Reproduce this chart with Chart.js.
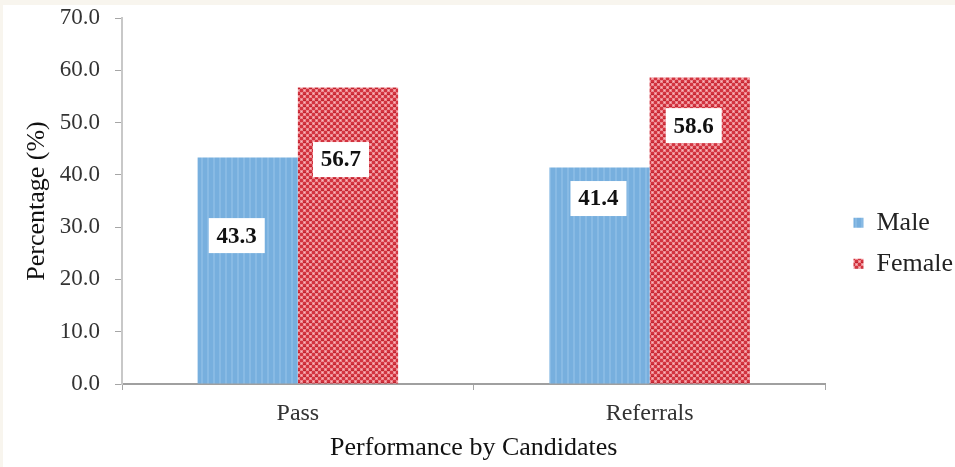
<!DOCTYPE html>
<html>
<head>
<meta charset="utf-8">
<script src="https://cdn.jsdelivr.net/npm/chart.js@4.4.0/dist/chart.umd.min.js"></script>
<style>
  html, body { margin: 0; padding: 0; background: #f8f5ee; }
  #frame { position: relative; width: 955px; height: 467px; background: #f8f5ee; overflow: hidden; }
  #wrap { position: absolute; left: 3px; top: 5px; width: 952px; height: 462px; background: #ffffff; }
</style>
</head>
<body>
<div id="frame"><div id="wrap"><canvas id="chart" width="952" height="462"></canvas></div></div>
<script>
// Performance by candidates, split by gender (percent)
const categories = ['Pass', 'Referrals'];
const maleValues = [43.3, 41.4];
const femaleValues = [56.7, 58.6];
const yTicks = [0, 10, 20, 30, 40, 50, 60, 70];

const SERIF = '"Liberation Serif", "Times New Roman", serif';

// Vertical light-blue stripes
function stripePattern() {
  const c = document.createElement('canvas');
  c.width = 6; c.height = 6;
  const g = c.getContext('2d');
  g.fillStyle = '#77afde';
  g.fillRect(0, 0, 6, 6);
  g.fillStyle = '#88bae4';
  g.fillRect(0, 0, 2, 6);
  return g.createPattern(c, 'repeat');
}

// Red checkered weave
function checkPattern() {
  const c = document.createElement('canvas');
  c.width = 6; c.height = 6;
  const g = c.getContext('2d');
  g.fillStyle = '#d33440';
  g.fillRect(0, 0, 6, 6);
  g.fillStyle = '#ec868d';
  g.fillRect(0, 0, 3, 3);
  g.fillRect(3, 3, 3, 3);
  g.fillStyle = '#f6bcc0';
  g.fillRect(1, 1, 1, 1);
  g.fillRect(4, 4, 1, 1);
  g.fillStyle = '#c0232e';
  g.fillRect(0, 5, 3, 1);
  return g.createPattern(c, 'repeat');
}

// White boxed value labels inside the bars
const boxedLabels = {
  id: 'boxedLabels',
  afterDatasetsDraw(chart, args, opts) {
    const ctx = chart.ctx;
    ctx.save();
    ctx.font = 'bold 23px ' + SERIF;
    ctx.textAlign = 'center';
    ctx.textBaseline = 'middle';
    chart.data.datasets.forEach((ds, di) => {
      const meta = chart.getDatasetMeta(di);
      meta.data.forEach((bar, i) => {
        const off = opts.offsets[di][i];
        const cx = bar.x + off[0];
        const cy = bar.y + off[1];
        const w = 56, h = 35;
        ctx.fillStyle = '#ffffff';
        ctx.fillRect(cx - w / 2, cy - h / 2, w, h);
        ctx.fillStyle = '#111111';
        ctx.fillText(ds.data[i].toFixed(1), cx, cy + 1);
      });
    });
    ctx.restore();
  }
};

new Chart(document.getElementById('chart'), {
  type: 'bar',
  data: {
    labels: categories,
    datasets: [
      { label: 'Male', data: maleValues, backgroundColor: stripePattern(), borderWidth: 0 },
      { label: 'Female', data: femaleValues, backgroundColor: checkPattern(), borderWidth: 0 }
    ]
  },
  options: {
    responsive: false,
    animation: false,
    devicePixelRatio: 1,
    categoryPercentage: 0.57,
    barPercentage: 1.0,
    layout: { padding: { top: 0, right: -8, bottom: 0, left: 0 } },
    plugins: {
      tooltip: { enabled: false },
      legend: {
        position: 'right',
        align: 'center',
        title: { display: true, text: '', font: { size: 12 }, padding: 0 },
        labels: {
          boxWidth: 10,
          boxHeight: 10,
          padding: 15,
          color: '#222222',
          font: { family: SERIF, size: 26 }
        }
      },
      boxedLabels: {
        offsets: [[[-11, 78], [-1, 31]], [[-7, 72], [-6, 48]]]
      }
    },
    scales: {
      x: {
        grid: { display: true, drawOnChartArea: false, drawTicks: true, tickLength: 6, color: '#a6a6a6', lineWidth: 1 },
        border: { display: true, color: '#a0a0a0', width: 2 },
        ticks: { color: '#333333', padding: 9, font: { family: SERIF, size: 24 } },
        title: { display: true, text: 'Performance by Candidates', color: '#111111', font: { family: SERIF, size: 26 }, padding: { top: 2, bottom: 3 } },
        afterFit(s) { s.height = 83; }
      },
      y: {
        min: 0, max: 70,
        afterBuildTicks(s) { s.ticks = yTicks.map(v => ({ value: v })); },
        grid: { display: true, drawOnChartArea: false, drawTicks: true, tickLength: 7, color: '#a6a6a6' },
        border: { display: true, color: '#c8c8c8', width: 2 },
        ticks: { color: '#333333', padding: 15, font: { family: SERIF, size: 23 }, callback: v => Number(v).toFixed(1) },
        title: { display: true, text: 'Percentage (%)', color: '#111111', font: { family: SERIF, size: 26 }, padding: { top: 19, bottom: 0 } },
        afterFit(s) { s.width = 119; s.paddingTop = 13; }
      },
      spacer: {
        position: 'right',
        display: true,
        grid: { display: false },
        border: { display: false },
        ticks: { display: false },
        afterFit(s) { s.width = 13; s.paddingTop = 0; s.paddingBottom = 0; }
      }
    }
  },
  plugins: [boxedLabels]
});
</script>
</body>
</html>
